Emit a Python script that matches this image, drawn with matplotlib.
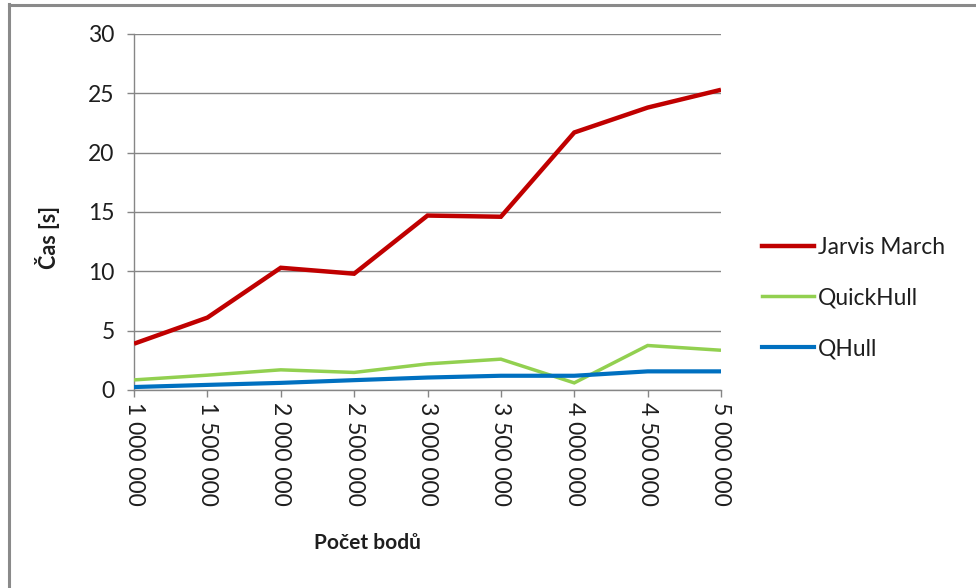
import matplotlib
matplotlib.use("Agg")
import matplotlib.pyplot as plt
from matplotlib.lines import Line2D

plt.rcParams['font.family'] = ['Lato', 'DejaVu Sans']

# Data
categories = ["1 000 000", "1 500 000", "2 000 000", "2 500 000", "3 000 000",
              "3 500 000", "4 000 000", "4 500 000", "5 000 000"]
jarvis_march = [3.9, 6.1, 10.3, 9.8, 14.7, 14.6, 21.7, 23.8, 25.3]
quickhull = [0.85, 1.25, 1.7, 1.48, 2.2, 2.6, 0.6, 3.75, 3.35]
qhull = [0.25, 0.43, 0.6, 0.83, 1.05, 1.2, 1.2, 1.57, 1.57]
y_ticks = [0, 5, 10, 15, 20, 25, 30]

series = [
    ("Jarvis March", jarvis_march, "#C00000", 3.2),
    ("QuickHull", quickhull, "#92D050", 2.5),
    ("QHull", qhull, "#0070C0", 3.0),
]

W, H = 976, 588
fig = plt.figure(figsize=(W / 100, H / 100), dpi=100)
fig.patch.set_facecolor("white")

left, right, top, bottom = 134, 721, 34, 390
ax = fig.add_axes([left / W, 1 - bottom / H, (right - left) / W, (bottom - top) / H])

x = list(range(len(categories)))
for name, vals, color, lw in series:
    ax.plot(x, vals, color=color, linewidth=lw, label=name,
            solid_joinstyle="miter", solid_capstyle="butt", zorder=3)

grid_color = "#868686"
text_color = "#1e1e1e"
fs = 16.5
ax.set_xlim(0, len(categories) - 1)
ax.set_ylim(0, 30)
ax.set_yticks(y_ticks)
ax.set_yticklabels([str(v) for v in y_ticks])
ax.set_xticks(x)
ax.set_xticklabels(categories, rotation=270, va="top", ha="center")
ax.yaxis.grid(True, color=grid_color, linewidth=1.0)
ax.set_axisbelow(True)

for s in ("top", "right"):
    ax.spines[s].set_visible(False)
for s in ("left", "bottom"):
    ax.spines[s].set_color(grid_color)
    ax.spines[s].set_linewidth(1.0)

ax.tick_params(axis="both", colors=grid_color, labelcolor=text_color,
               labelsize=fs, length=5, width=1.0, direction="out")
ax.tick_params(axis="y", pad=9)
ax.tick_params(axis="x", pad=4)

# Axis titles
fig.text(48 / W, 1 - 237 / H, "Čas [s]", rotation=90, ha="center", va="center",
         fontsize=15.5, fontweight="bold", color=text_color)
fig.text(367 / W, 1 - 543 / H, "Počet bodů", ha="center", va="center",
         fontsize=15, fontweight="bold", color=text_color)

# Legend
handles = [Line2D([0], [0], color=c, linewidth=lw) for _, _, c, lw in series]
labels = [n for n, _, _, _ in series]
leg = fig.legend(handles, labels, loc="center left",
                 bbox_to_anchor=(741 / W, 1 - 298 / H),
                 frameon=False, fontsize=fs, handlelength=2.3,
                 handletextpad=0.15, labelspacing=1.3)
for t in leg.get_texts():
    t.set_color(text_color)

# Frame edges along the top and left
fig.add_artist(Line2D([9 / W, 9 / W], [0, 1 - 4 / H], transform=fig.transFigure,
                      color="#8a8a8a", linewidth=2.2))
fig.add_artist(Line2D([9 / W, 1], [1 - 5 / H, 1 - 5 / H], transform=fig.transFigure,
                      color="#8a8a8a", linewidth=2.2))

fig.savefig("out.png", dpi=100, facecolor="white")
